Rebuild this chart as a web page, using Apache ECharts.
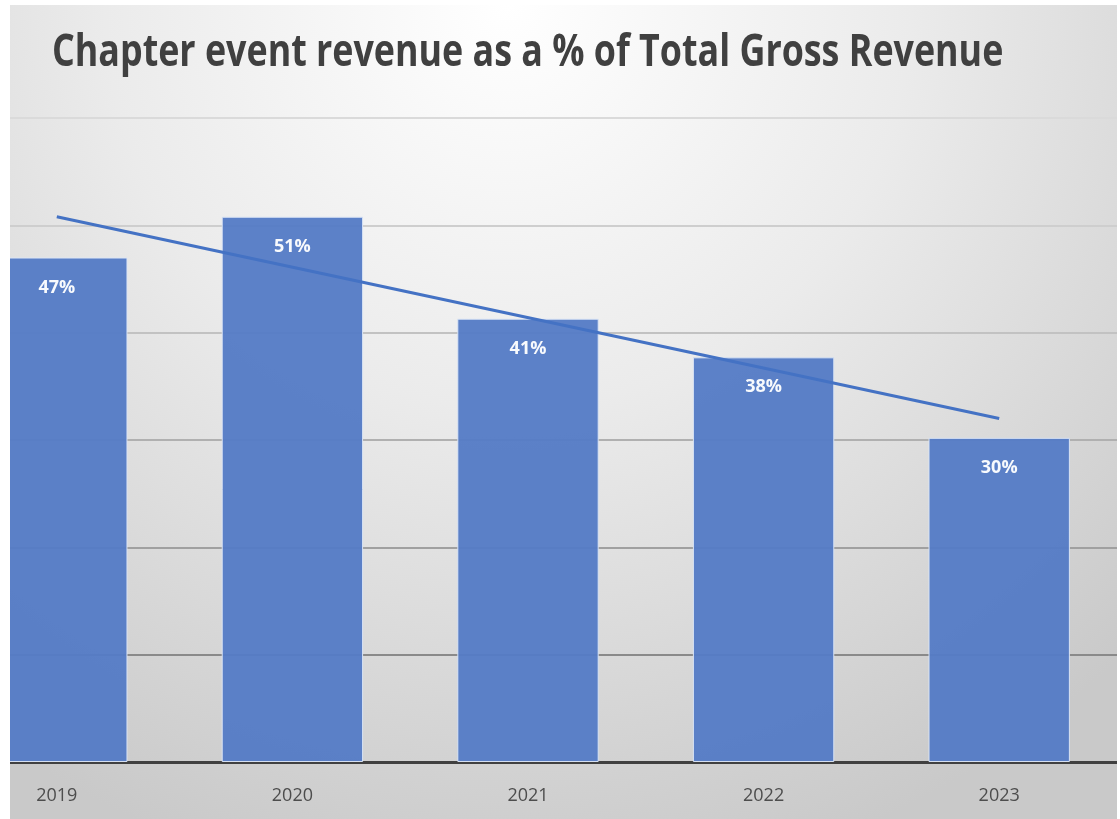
<!DOCTYPE html>
<html>
<head>
<meta charset="utf-8">
<script src="https://cdn.jsdelivr.net/npm/echarts@6/dist/echarts.min.js"></script>
<style>
  html, body { margin: 0; padding: 0; background: #fff; }
  #chart { position: absolute; left: 10px; top: 5px; width: 1107px; height: 814px; }
</style>
</head>
<body>
<div id="chart"></div>
<script>
// data (bar heights; labels show them rounded)
var years = ['2019', '2020', '2021', '2022', '2023'];
var shares = [47.0, 50.8, 41.3, 37.7, 30.2];
// trendline end points (2019 and 2023)
var trendEnds = [50.8, 32];
var yTicks = [0, 10, 20, 30, 40, 50, 60];

var trend = years.map(function (y, i) {
  if (i === 0) return trendEnds[0];
  if (i === years.length - 1) return trendEnds[1];
  return null;
});

var chart = echarts.init(document.getElementById('chart'));
var option = {
  backgroundColor: {
    type: 'radial', x: 0.45, y: 0.0, r: 1.1,
    colorStops: [
      { offset: 0, color: '#ffffff' },
      { offset: 0.45, color: '#ebebeb' },
      { offset: 1, color: '#c9c9c9' }
    ]
  },
  animation: false,
  graphic: [{
    type: 'text',
    left: 42,
    top: 26,
    scaleX: 0.814,
    style: {
      text: 'Chapter event revenue as a % of Total Gross Revenue',
      font: 'bold 44px "Open Sans"',
      fill: '#404040'
    }
  }],
  grid: { left: -71, right: 0, top: 113, bottom: 57, outerBoundsMode: 'none', containLabel: false },
  xAxis: {
    type: 'category',
    data: years,
    axisLine: { lineStyle: { color: '#404040', width: 3 } },
    axisTick: { show: false },
    axisLabel: { margin: 25, fontSize: 18, color: '#4d4d4d', fontFamily: 'Open Sans' }
  },
  yAxis: {
    type: 'value',
    min: yTicks[0],
    max: yTicks[yTicks.length - 1],
    interval: 10,
    axisLabel: { show: false },
    axisLine: { show: false },
    axisTick: { show: false },
    splitLine: {
      lineStyle: {
        width: 2,
        color: ['#404040', '#8a8a8a', '#a0a0a0', '#b0b0b0', '#c2c2c2', '#cecece', '#dadada']
      }
    }
  },
  series: [
    {
      type: 'bar',
      data: shares,
      barCategoryGap: '40%',
      itemStyle: { color: '#557cc6', opacity: 0.96, borderColor: '#dbe5f6', borderWidth: 1 },
      label: {
        show: true,
        position: 'insideTop',
        distance: 21,
        formatter: function (p) { return Math.round(p.value) + '%'; },
        color: '#ffffff',
        fontWeight: 'bold',
        fontSize: 18,
        fontFamily: 'Open Sans'
      }
    },
    {
      type: 'line',
      data: trend,
      connectNulls: true,
      symbol: 'none',
      lineStyle: { color: '#4472c4', width: 3 },
      z: 5
    }
  ]
};
chart.setOption(option);
</script>
</body>
</html>
